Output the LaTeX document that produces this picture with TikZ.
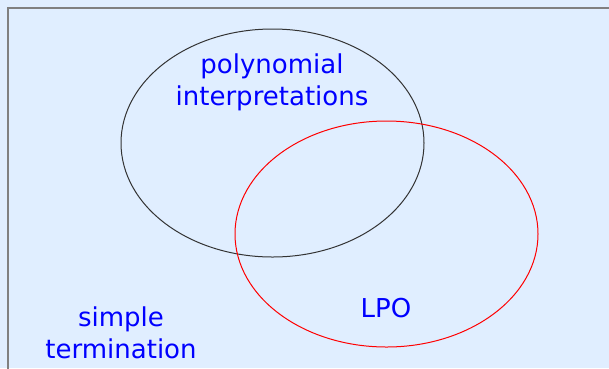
\documentclass[tikz,border=0pt]{standalone}
\usepackage{fontspec}
\setmainfont{DejaVu Sans}
\usetikzlibrary{shapes.geometric}
\definecolor{bgblue}{RGB}{224,238,255}
\definecolor{frame}{RGB}{128,128,128}
\definecolor{txtblue}{RGB}{0,0,255}
\begin{document}
\begin{tikzpicture}[x=1pt,y=-1pt,
  lbl/.style={text=txtblue,font=\fontsize{26}{32}\selectfont,align=center,inner sep=0pt},
  setline/.style={line width=1pt}]
\useasboundingbox (0,0) rectangle (609,368);
\fill[bgblue] (0,0) rectangle (609,368);
\draw[frame,line width=2pt] (8,380) -- (8,7.5) -- (620,7.5);
\node[draw=black!80,setline,ellipse,minimum width=303,minimum height=228,inner sep=0pt] (poly) at (272.5,143) {};
\node[draw=red,setline,ellipse,minimum width=303,minimum height=226,inner sep=0pt] (lpo) at (386.5,234) {};
\node[lbl] (polytxt) at (272,82) {polynomial\\interpretations};
\node[lbl] (lpotxt) at (386,308) {LPO};
\node[lbl] (simple) at (121,333) {simple\\termination};
\end{tikzpicture}
\end{document}
